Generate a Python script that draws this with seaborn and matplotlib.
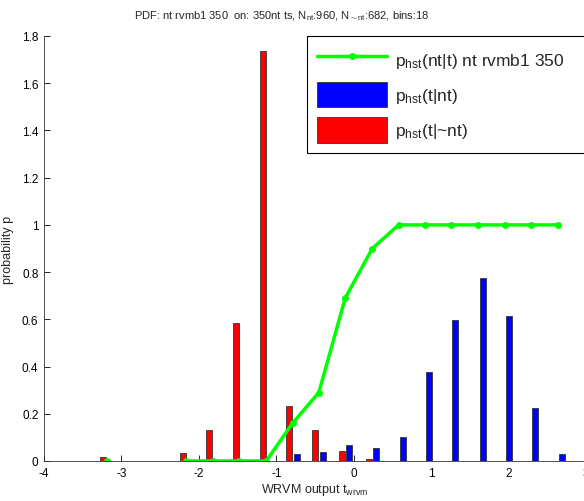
import numpy as np
import pandas as pd
import matplotlib
matplotlib.use("Agg")
import matplotlib.pyplot as plt
import seaborn as sns
from matplotlib.lines import Line2D
from matplotlib.patches import Patch

# ---- data ----
bin_centers = [-3.19, -2.85, -2.51, -2.16, -1.82, -1.48, -1.13, -0.79, -0.45,
               -0.11, 0.24, 0.58, 0.92, 1.26, 1.61, 1.95, 2.29, 2.64]
p_nt_given_t = [0.0, np.nan, np.nan, 0.0, 0.0, 0.0, 0.0, 0.16, 0.29,
                0.69, 0.90, 1.0, 1.0, 1.0, 1.0, 1.0, 1.0, 1.0]
p_t_given_nt = [0, 0, 0, 0, 0, 0, 0, 0.03, 0.037,
                0.066, 0.055, 0.10, 0.377, 0.597, 0.775, 0.614, 0.223, 0.03]
p_t_given_not_nt = [0.017, 0, 0, 0.034, 0.13, 0.585, 1.737, 0.233, 0.131,
                    0.042, 0.01, 0, 0, 0, 0, 0, 0, 0]
x_ticks = [-4, -3, -2, -1, 0, 1, 2, 3]
y_ticks = [0, 0.2, 0.4, 0.6, 0.8, 1.0, 1.2, 1.4, 1.6, 1.8]
y_tick_labels = ["0", "0.2", "0.4", "0.6", "0.8", "1", "1.2", "1.4", "1.6", "1.8"]

sns.set_style("ticks")
plt.rcParams["font.family"] = ["Liberation Sans", "DejaVu Sans"]
plt.rcParams["mathtext.fontset"] = "custom"
plt.rcParams["mathtext.rm"] = "Liberation Sans"
plt.rcParams["mathtext.it"] = "Liberation Sans"

W, H = 584, 502
fig = plt.figure(figsize=(W / 100, H / 100), dpi=100)
ax = fig.add_axes([44 / W, 1 - 462 / H, (586 - 44) / W, (462 - 37) / H])

centers = np.array(bin_centers)
red_df = pd.DataFrame({"x": centers - 0.046, "y": p_t_given_not_nt})
red_df = red_df[red_df["y"] > 0]
blue_df = pd.DataFrame({"x": centers + 0.054, "y": p_t_given_nt})
blue_df = blue_df[blue_df["y"] > 0]

bw = 0.078 / 0.343
sns.barplot(data=red_df, x="x", y="y", native_scale=True, width=bw,
            color="#ff0000", saturation=1, edgecolor="#333333", linewidth=0.6,
            ax=ax, errorbar=None)
sns.barplot(data=blue_df, x="x", y="y", native_scale=True, width=bw,
            color="#0000ff", saturation=1, edgecolor="#333333", linewidth=0.6,
            ax=ax, errorbar=None)

line_df = pd.DataFrame({"x": centers, "y": p_nt_given_t})
seg1 = line_df.iloc[:1]
seg2 = line_df.iloc[3:]
for seg in (seg1, seg2):
    sns.lineplot(data=seg, x="x", y="y", color="#00ff00", linewidth=2.5,
                 marker="o", markersize=5, markeredgewidth=0, ax=ax)

ax.set_xlim(-4, 3)
ax.set_ylim(0, 1.8)
ax.set_xticks(x_ticks)
ax.set_xticklabels([str(t) for t in x_ticks])
ax.set_yticks(y_ticks)
ax.set_yticklabels(y_tick_labels)
ax.tick_params(direction="in", length=4, width=0.6, labelsize=8.5, pad=4,
               colors="black")
for s in ("top", "right"):
    ax.spines[s].set_visible(False)
for s in ("left", "bottom"):
    ax.spines[s].set_linewidth(0.6)
    ax.spines[s].set_color("#333333")

ax.set_xlabel(r"WRVM output t$_{\rm wrvm}$", fontsize=9, labelpad=2)
ax.set_ylabel("probability p", fontsize=9, labelpad=6)

fig.text(282 / W, 1 - 16 / H,
         r"PDF: nt rvmb1 350  on: 350nt ts, N$_{\rm nt}$:960, N$_{\rm \sim nt}$:682, bins:18",
         ha="center", va="center", fontsize=8)

handles = [
    Line2D([0], [0], color="#00ff00", linewidth=2.5, marker="o", markersize=5,
           markeredgewidth=0, markevery=[1]),
    Patch(facecolor="#0000ff", edgecolor="#333333", linewidth=0.6),
    Patch(facecolor="#ff0000", edgecolor="#333333", linewidth=0.6),
]
labels = [r"p$_{\rm hst}$(nt|t) nt rvmb1 350",
          r"p$_{\rm hst}$(t|nt)",
          r"p$_{\rm hst}$(t|~nt)"]
leg = fig.legend(handles, labels, loc="upper left", mode="expand",
                 bbox_to_anchor=(307 / W, 1 - 155 / H, 300 / W, 118 / H),
                 fontsize=12.5,
                 handlelength=4.0, handleheight=1.9, handletextpad=0.45,
                 labelspacing=0.55, borderpad=0.6, borderaxespad=0,
                 fancybox=False, framealpha=1, edgecolor="black")
leg.get_frame().set_linewidth(0.8)

fig.savefig("out.png", dpi=100)
